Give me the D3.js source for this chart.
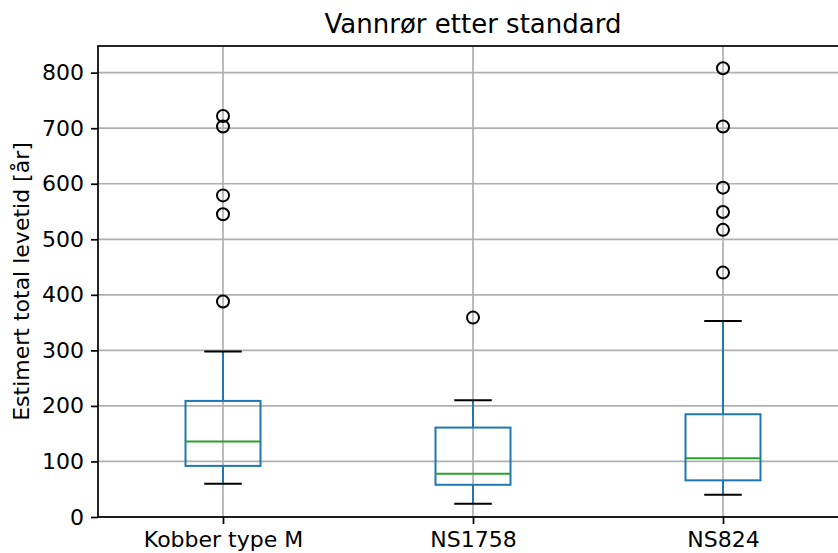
<!DOCTYPE html>
<html>
<head>
<meta charset="utf-8">
<script src="https://cdn.jsdelivr.net/npm/d3@7"></script>
<style>
  body { margin: 0; background: #fff; }
  svg { display: block; font-family: "DejaVu Sans", sans-serif; }
</style>
</head>
<body>
<svg id="chart" width="838" height="553"></svg>
<script>
// ── DATA ─────────────────────────────────────────────────────────────────────
const categories  = ['Kobber type M', 'NS1758', 'NS824'];
const whiskerLow  = [60, 24, 40];
const q1          = [92, 58, 66];
const medians     = [136, 78, 106];
const q3          = [209, 161, 185];
const whiskerHigh = [298, 210, 353];
const fliers      = [
  [722, 703, 579, 545, 388],
  [359],
  [808, 703, 593, 549, 517, 440]
];
const yTicks = [0, 100, 200, 300, 400, 500, 600, 700, 800];

// ── SETUP ────────────────────────────────────────────────────────────────────
const svg = d3.select('#chart');
const M = { left: 98, top: 46, right: 848, bottom: 517 };
const BLUE = '#1f77b4', GREEN = '#2ca02c', GRID = '#b0b0b0';

const x = d3.scaleLinear().domain([0.5, categories.length + 0.5]).range([M.left, M.right]);
const y = d3.scaleLinear().domain([0, 848]).range([M.bottom, M.top]);

const boxW = 0.3, capW = 0.15;
const lw = 2;

// grid
const grid = svg.append('g');
grid.selectAll('.hg').data(yTicks).join('line')
  .attr('x1', M.left).attr('x2', M.right)
  .attr('y1', d => y(d)).attr('y2', d => y(d))
  .attr('stroke', GRID).attr('stroke-width', 1.7);
grid.selectAll('.vg').data(categories).join('line')
  .attr('x1', (d, i) => x(i + 1)).attr('x2', (d, i) => x(i + 1))
  .attr('y1', M.top).attr('y2', M.bottom)
  .attr('stroke', GRID).attr('stroke-width', 1.7);

// boxes
const box = svg.append('g').selectAll('g').data(categories).join('g');
box.each(function(d, i) {
  const el = d3.select(this);
  const c = i + 1;
  // whiskers
  el.append('line').attr('x1', x(c)).attr('x2', x(c))
    .attr('y1', y(q1[i])).attr('y2', y(whiskerLow[i]))
    .attr('stroke', BLUE).attr('stroke-width', lw);
  el.append('line').attr('x1', x(c)).attr('x2', x(c))
    .attr('y1', y(q3[i])).attr('y2', y(whiskerHigh[i]))
    .attr('stroke', BLUE).attr('stroke-width', lw);
  // caps
  [whiskerLow[i], whiskerHigh[i]].forEach(v => {
    el.append('line').attr('x1', x(c - capW / 2)).attr('x2', x(c + capW / 2))
      .attr('y1', y(v)).attr('y2', y(v))
      .attr('stroke', '#000').attr('stroke-width', lw);
  });
  // box
  el.append('rect')
    .attr('x', x(c - boxW / 2)).attr('width', x(c + boxW / 2) - x(c - boxW / 2))
    .attr('y', y(q3[i])).attr('height', y(q1[i]) - y(q3[i]))
    .attr('fill', 'none').attr('stroke', BLUE).attr('stroke-width', lw);
  // median
  el.append('line').attr('x1', x(c - boxW / 2)).attr('x2', x(c + boxW / 2))
    .attr('y1', y(medians[i])).attr('y2', y(medians[i]))
    .attr('stroke', GREEN).attr('stroke-width', lw);
  // fliers
  el.selectAll('circle').data(fliers[i]).join('circle')
    .attr('cx', x(c)).attr('cy', v => y(v)).attr('r', 6)
    .attr('fill', 'none').attr('stroke', '#000').attr('stroke-width', 2);
});

// axes
const yAxis = svg.append('g').attr('transform', `translate(${M.left},0)`)
  .call(d3.axisLeft(y).tickValues(yTicks).tickSize(7).tickPadding(7));
const xAxis = svg.append('g').attr('transform', `translate(0,${M.bottom})`)
  .call(d3.axisBottom(x).tickValues(categories.map((d, i) => i + 1))
    .tickFormat((d) => categories[d - 1]).tickSize(7).tickPadding(7));
[yAxis, xAxis].forEach(a => {
  a.select('.domain').remove();
  a.selectAll('line').attr('stroke', '#000').attr('stroke-width', 1.7);
  a.selectAll('text').attr('font-size', 22).attr('fill', '#000')
    .attr('font-family', '"DejaVu Sans", sans-serif');
});

// spines
svg.append('rect')
  .attr('x', M.left).attr('y', M.top)
  .attr('width', M.right - M.left).attr('height', M.bottom - M.top)
  .attr('fill', 'none').attr('stroke', '#000').attr('stroke-width', 1.7);

// title + label
svg.append('text')
  .attr('x', (M.left + M.right) / 2).attr('y', 33)
  .attr('text-anchor', 'middle').attr('font-size', 26)
  .text('Vannrør etter standard');
svg.append('text')
  .attr('transform', `translate(29,${(M.top + M.bottom) / 2}) rotate(-90)`)
  .attr('text-anchor', 'middle').attr('font-size', 22)
  .text('Estimert total levetid [år]');
</script>
</body>
</html>
